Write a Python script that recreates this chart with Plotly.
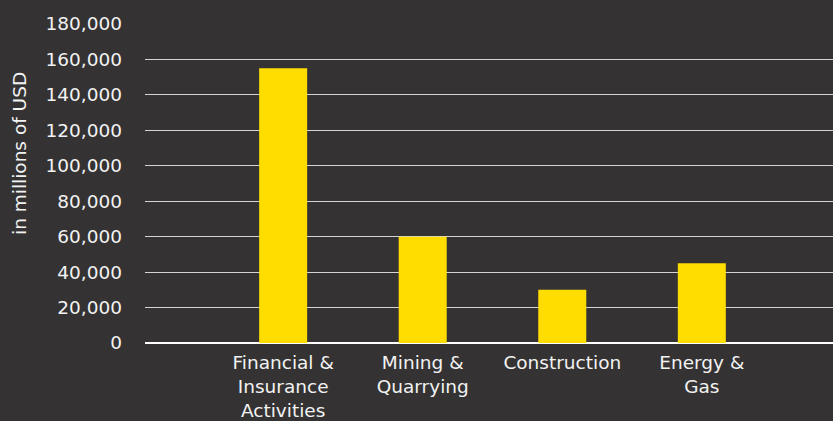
import plotly.graph_objects as go

# Sector values (millions of USD)
categories = ["Financial &<br>Insurance<br>Activities", "Mining &<br>Quarrying", "Construction", "Energy &<br>Gas"]
values = [155000, 60000, 30000, 45000]
y_ticks = [0, 20000, 40000, 60000, 80000, 100000, 120000, 140000, 160000, 180000]

BG = "#343233"
YELLOW = "#FFDD00"
TEXT = "#F2F2F2"
FONT = "DejaVu Sans, Arial, sans-serif"
FS = 18.5

W, H = 833, 421
M_L, M_R, M_T, M_B = 145, 0, 24, 78

fig = go.Figure(
    go.Bar(
        x=categories,
        y=values,
        marker=dict(color=YELLOW, line=dict(width=0)),
        width=0.344,
    )
)

plot_w = W - M_L - M_R
plot_h = H - M_T - M_B

fig.update_layout(
    width=W,
    height=H,
    paper_bgcolor=BG,
    plot_bgcolor=BG,
    margin=dict(l=M_L, r=M_R, t=M_T, b=M_B),
    showlegend=False,
    font=dict(family=FONT, color=TEXT, size=FS),
    annotations=[
        dict(
            text="in millions of USD",
            textangle=-90,
            x=(19 - M_L) / plot_w, xref="paper", xanchor="center",
            y=(H - M_B - 154) / plot_h, yref="paper", yanchor="middle",
            showarrow=False,
            font=dict(size=FS, color=TEXT, family=FONT),
        )
    ],
)

fig.update_xaxes(
    type="category",
    range=[-0.99, 3.94],
    showgrid=False,
    showline=False,
    zeroline=False,
    ticks="",
    ticklabelstandoff=6,
    tickfont=dict(size=FS, color=TEXT, family=FONT),
)

fig.update_yaxes(
    range=[0, 180000],
    tickvals=y_ticks,
    tickformat=",d",
    showgrid=True,
    gridcolor="#D4D4D4",
    gridwidth=1,
    zeroline=True,
    zerolinecolor="#FFFFFF",
    zerolinewidth=1.5,
    showline=False,
    ticks="",
    ticklabelstandoff=22,
    tickfont=dict(size=FS, color=TEXT, family=FONT),
)

fig.write_html("out.html")
